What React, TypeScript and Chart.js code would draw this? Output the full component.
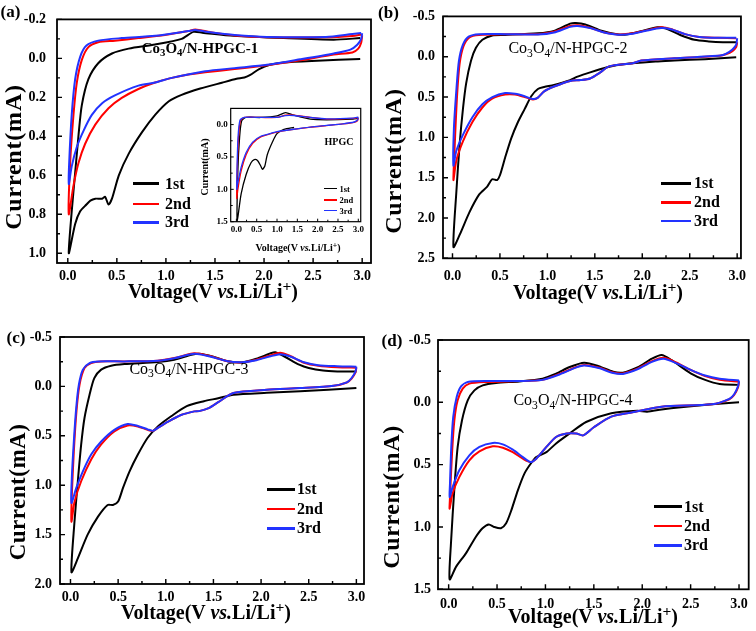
import React, { useEffect, useRef } from 'react';
import { Chart, registerables } from 'chart.js';
Chart.register(...registerables);

// ---------- shared ----------
const legendLabels = ['1st', '2nd', '3rd'];
const cycleColors = ['#000000', '#ff0000', '#2233ff'];
const voltTicks = [0, 0.5, 1, 1.5, 2, 2.5, 3];

// ---------- panel (a) ----------
const aYTicks = [-0.2, 0, 0.2, 0.4, 0.6, 0.8, 1.0];
const a1V = [2.98, 2.54, 2.2, 2.06, 1.95, 1.86, 1.8, 1.72, 1.57, 1.35, 1.16, 1.03, 0.89, 0.755, 0.62, 0.52, 0.45, 0.415, 0.38, 0.35, 0.28, 0.23, 0.19, 0.126, 0.075, 0.01, 0.04, 0.075, 0.11, 0.143, 0.21, 0.31, 0.45, 0.62, 0.89, 1.16, 1.28, 1.37, 1.69, 2.2, 2.71, 2.98];
const a1I = [0.003, 0.012, 0.021, 0.033, 0.055, 0.085, 0.098, 0.105, 0.125, 0.155, 0.187, 0.22, 0.29, 0.38, 0.49, 0.6, 0.72, 0.75, 0.71, 0.72, 0.72, 0.73, 0.75, 0.785, 0.85, 1.0, 0.785, 0.587, 0.39, 0.24, 0.107, 0.025, -0.025, -0.05, -0.071, -0.1, -0.136, -0.132, -0.116, -0.104, -0.096, -0.104];
const a2V = [3.0, 2.99, 2.96, 2.9, 2.71, 2.37, 2.03, 1.7, 1.4, 1.23, 1.06, 0.89, 0.72, 0.55, 0.415, 0.28, 0.177, 0.109, 0.058, 0.01, 0.024, 0.058, 0.092, 0.143, 0.21, 0.31, 0.48, 0.72, 0.99, 1.23, 1.3, 1.45, 1.7, 2.03, 2.63, 2.9, 2.99];
const a2I = [-0.118, -0.08, -0.05, -0.03, -0.02, 0.01, 0.035, 0.055, 0.071, 0.083, 0.1, 0.124, 0.157, 0.203, 0.256, 0.34, 0.438, 0.537, 0.653, 0.8, 0.537, 0.29, 0.124, 0.008, -0.058, -0.083, -0.091, -0.104, -0.12, -0.14, -0.148, -0.135, -0.118, -0.108, -0.108, -0.115, -0.122];
const a3V = [3.0, 2.99, 2.95, 2.88, 2.71, 2.37, 2.03, 1.7, 1.4, 1.06, 0.89, 0.72, 0.48, 0.35, 0.245, 0.16, 0.092, 0.04, 0.01, 0.014, 0.04, 0.075, 0.126, 0.19, 0.31, 0.55, 0.89, 1.23, 1.3, 1.45, 1.7, 2.03, 2.63, 2.9, 2.99];
const a3I = [-0.13, -0.1, -0.07, -0.045, -0.025, 0.005, 0.033, 0.05, 0.066, 0.1, 0.124, 0.14, 0.19, 0.23, 0.29, 0.372, 0.455, 0.554, 0.645, 0.537, 0.29, 0.107, -0.008, -0.066, -0.091, -0.104, -0.116, -0.14, -0.145, -0.134, -0.12, -0.11, -0.11, -0.125, -0.13];

// ---------- inset (HPGC) ----------
const inYTicks = [0, 0.5, 1.0, 1.5];
const in1V = [1.42, 1.17, 1.0, 0.89, 0.76, 0.7, 0.64, 0.6, 0.52, 0.44, 0.36, 0.24, 0.117, 0.02, 0.036, 0.077, 0.13, 0.24, 0.6, 1.0, 1.21, 1.41, 1.82, 2.22, 2.87, 3.0];
const in1I = [0.045, 0.075, 0.14, 0.265, 0.465, 0.64, 0.69, 0.64, 0.555, 0.54, 0.59, 0.77, 1.07, 1.5, 0.715, 0.215, -0.06, -0.11, -0.11, -0.135, -0.185, -0.145, -0.085, -0.075, -0.085, -0.095];
const in2V = [3.0, 2.98, 2.9, 2.62, 2.22, 1.82, 1.41, 1.0, 0.85, 0.6, 0.4, 0.24, 0.117, 0.036, 0.01, 0.02, 0.05, 0.1, 0.2, 0.6, 1.0, 1.21, 1.41, 1.82, 2.22, 2.87, 3.0];
const in2I = [-0.1, -0.06, -0.035, -0.01, 0.015, 0.04, 0.075, 0.115, 0.14, 0.19, 0.29, 0.465, 0.715, 1.0, 1.14, 0.715, 0.215, -0.06, -0.11, -0.11, -0.11, -0.145, -0.145, -0.11, -0.085, -0.095, -0.11];
const in3V = [3.0, 2.98, 2.9, 2.62, 2.22, 1.82, 1.41, 1.0, 0.85, 0.6, 0.4, 0.24, 0.117, 0.036, 0.01, 0.015, 0.04, 0.09, 0.2, 0.6, 1.0, 1.21, 1.41, 1.82, 2.22, 2.87, 3.0];
const in3I = [-0.11, -0.07, -0.04, -0.012, 0.013, 0.038, 0.072, 0.11, 0.135, 0.18, 0.27, 0.43, 0.66, 0.9, 1.0, 0.7, 0.2, -0.07, -0.11, -0.112, -0.112, -0.14, -0.14, -0.11, -0.088, -0.1, -0.115];

// ---------- panel (b) ----------
const bYTicks = [-0.5, 0, 0.5, 1.0, 1.5, 2.0, 2.5];
const b1V = [2.99, 2.66, 2.34, 2.14, 1.82, 1.63, 1.41, 1.31, 1.24, 1.07, 0.966, 0.9, 0.83, 0.76, 0.69, 0.62, 0.555, 0.5, 0.47, 0.418, 0.366, 0.28, 0.178, 0.075, 0.01, 0.04, 0.075, 0.11, 0.144, 0.195, 0.247, 0.315, 0.42, 0.555, 0.9, 1.07, 1.24, 1.3, 1.4, 1.55, 1.75, 1.85, 2.0, 2.16, 2.25, 2.4, 2.55, 2.7, 2.85, 2.99];
const b1I = [0.008, 0.03, 0.048, 0.06, 0.089, 0.13, 0.21, 0.25, 0.29, 0.35, 0.376, 0.4, 0.49, 0.65, 0.81, 1.01, 1.25, 1.47, 1.53, 1.52, 1.61, 1.71, 1.93, 2.21, 2.36, 1.69, 1.09, 0.65, 0.33, 0.05, -0.11, -0.21, -0.264, -0.27, -0.29, -0.32, -0.41, -0.418, -0.4, -0.33, -0.276, -0.28, -0.32, -0.365, -0.35, -0.27, -0.21, -0.19, -0.18, -0.18];
const b2V = [3.0, 2.99, 2.95, 2.88, 2.82, 2.34, 1.99, 1.9, 1.65, 1.55, 1.45, 1.35, 1.24, 1.07, 0.966, 0.897, 0.846, 0.76, 0.66, 0.555, 0.418, 0.315, 0.21, 0.11, 0.04, 0.01, 0.024, 0.048, 0.075, 0.116, 0.178, 0.28, 0.555, 0.9, 1.07, 1.24, 1.32, 1.45, 1.6, 1.75, 1.9, 2.05, 2.2, 2.3, 2.45, 2.6, 2.8, 2.99];
const b2I = [-0.18, -0.12, -0.07, -0.03, -0.012, 0.02, 0.048, 0.08, 0.12, 0.2, 0.27, 0.29, 0.3, 0.37, 0.43, 0.51, 0.53, 0.5, 0.47, 0.47, 0.52, 0.63, 0.81, 1.05, 1.29, 1.53, 1.09, 0.49, 0.09, -0.13, -0.24, -0.27, -0.28, -0.28, -0.31, -0.38, -0.39, -0.36, -0.3, -0.276, -0.29, -0.33, -0.365, -0.345, -0.28, -0.245, -0.235, -0.23];
const b3V = [3.0, 2.99, 2.95, 2.88, 2.82, 2.34, 1.99, 1.9, 1.65, 1.55, 1.45, 1.35, 1.24, 1.07, 0.966, 0.897, 0.846, 0.76, 0.66, 0.555, 0.42, 0.315, 0.21, 0.11, 0.04, 0.01, 0.015, 0.041, 0.068, 0.11, 0.17, 0.28, 0.555, 0.9, 1.07, 1.24, 1.32, 1.45, 1.6, 1.75, 1.9, 2.05, 2.2, 2.3, 2.45, 2.6, 2.8, 2.99];
const b3I = [-0.23, -0.15, -0.09, -0.035, -0.015, 0.02, 0.048, 0.08, 0.12, 0.2, 0.27, 0.29, 0.3, 0.37, 0.43, 0.51, 0.525, 0.49, 0.46, 0.45, 0.5, 0.59, 0.75, 0.97, 1.17, 1.35, 0.89, 0.41, 0.05, -0.15, -0.25, -0.28, -0.28, -0.275, -0.3, -0.37, -0.38, -0.355, -0.3, -0.272, -0.285, -0.325, -0.355, -0.34, -0.28, -0.245, -0.235, -0.235];

// ---------- panel (c) ----------
const cYTicks = [-0.5, 0, 0.5, 1.0, 1.5, 2.0];
const c1V = [3.0, 2.41, 2.06, 1.71, 1.55, 1.4, 1.22, 1.06, 0.917, 0.81, 0.707, 0.62, 0.55, 0.5, 0.445, 0.39, 0.287, 0.18, 0.077, 0.01, 0.042, 0.077, 0.112, 0.147, 0.2, 0.25, 0.322, 0.427, 0.567, 0.917, 1.09, 1.27, 1.35, 1.5, 1.65, 1.8, 1.95, 2.1, 2.15, 2.25, 2.4, 2.5, 2.65, 2.8, 3.0];
const c1I = [0.015, 0.05, 0.065, 0.084, 0.12, 0.15, 0.2, 0.3, 0.405, 0.52, 0.69, 0.86, 1.03, 1.165, 1.2, 1.2, 1.32, 1.5, 1.74, 1.88, 1.37, 0.96, 0.59, 0.32, 0.084, -0.084, -0.17, -0.21, -0.226, -0.247, -0.27, -0.32, -0.33, -0.3, -0.255, -0.243, -0.28, -0.335, -0.345, -0.3, -0.22, -0.186, -0.16, -0.152, -0.15];
const c2V = [3.0, 2.99, 2.95, 2.9, 2.76, 2.41, 2.06, 1.71, 1.55, 1.45, 1.35, 1.3, 1.16, 1.02, 0.917, 0.865, 0.81, 0.707, 0.6, 0.46, 0.32, 0.217, 0.112, 0.042, 0.01, 0.014, 0.035, 0.063, 0.095, 0.147, 0.217, 0.32, 0.567, 0.917, 1.09, 1.3, 1.45, 1.65, 1.8, 1.95, 2.1, 2.2, 2.3, 2.45, 2.6, 2.8, 3.0];
const c2I = [-0.19, -0.14, -0.08, -0.04, -0.006, 0.017, 0.034, 0.067, 0.16, 0.22, 0.25, 0.253, 0.29, 0.36, 0.42, 0.45, 0.44, 0.405, 0.395, 0.456, 0.59, 0.74, 0.96, 1.17, 1.37, 1.1, 0.66, 0.25, -0.017, -0.186, -0.236, -0.253, -0.253, -0.26, -0.287, -0.335, -0.31, -0.255, -0.243, -0.27, -0.315, -0.34, -0.31, -0.24, -0.21, -0.195, -0.19];
const c3V = [3.0, 2.99, 2.95, 2.9, 2.76, 2.41, 2.06, 1.71, 1.55, 1.45, 1.35, 1.3, 1.16, 1.02, 0.917, 0.865, 0.81, 0.707, 0.6, 0.46, 0.32, 0.217, 0.13, 0.06, 0.01, 0.014, 0.035, 0.06, 0.088, 0.13, 0.2, 0.29, 0.567, 0.917, 1.09, 1.3, 1.45, 1.65, 1.8, 1.95, 2.1, 2.2, 2.3, 2.45, 2.6, 2.8, 3.0];
const c3I = [-0.2, -0.15, -0.085, -0.04, -0.006, 0.017, 0.034, 0.067, 0.16, 0.22, 0.25, 0.253, 0.29, 0.36, 0.42, 0.45, 0.435, 0.4, 0.38, 0.44, 0.56, 0.69, 0.86, 1.03, 1.18, 0.93, 0.56, 0.22, -0.017, -0.17, -0.236, -0.253, -0.253, -0.26, -0.285, -0.33, -0.305, -0.255, -0.245, -0.265, -0.305, -0.325, -0.305, -0.245, -0.215, -0.205, -0.2];

// ---------- panel (d) ----------
const dYTicks = [-0.5, 0, 0.5, 1.0, 1.5];
const d1V = [3.0, 2.72, 2.4, 2.2, 2.05, 1.95, 1.68, 1.42, 1.25, 1.11, 1.01, 0.905, 0.853, 0.784, 0.715, 0.646, 0.594, 0.54, 0.47, 0.415, 0.35, 0.28, 0.18, 0.076, 0.01, 0.024, 0.06, 0.093, 0.138, 0.197, 0.266, 0.352, 0.49, 0.73, 0.97, 1.11, 1.25, 1.4, 1.55, 1.7, 1.8, 1.95, 2.1, 2.2, 2.3, 2.5, 2.65, 2.8, 3.0];
const d1I = [0.0, 0.016, 0.04, 0.058, 0.075, 0.068, 0.088, 0.158, 0.25, 0.33, 0.4, 0.44, 0.487, 0.57, 0.706, 0.87, 0.97, 1.01, 1.0, 0.98, 1.01, 1.08, 1.21, 1.32, 1.42, 1.13, 0.68, 0.36, 0.144, -0.016, -0.096, -0.136, -0.155, -0.168, -0.19, -0.23, -0.283, -0.318, -0.29, -0.245, -0.238, -0.28, -0.35, -0.38, -0.34, -0.233, -0.18, -0.147, -0.14];
const d2V = [3.0, 2.99, 2.95, 2.9, 2.72, 2.2, 1.9, 1.68, 1.5, 1.39, 1.32, 1.22, 1.11, 1.01, 0.905, 0.846, 0.767, 0.663, 0.56, 0.456, 0.318, 0.214, 0.11, 0.041, 0.01, 0.014, 0.035, 0.059, 0.093, 0.145, 0.214, 0.387, 0.73, 0.97, 1.15, 1.32, 1.4, 1.55, 1.7, 1.8, 1.95, 2.1, 2.22, 2.35, 2.5, 2.65, 2.8, 3.0];
const d2I = [-0.165, -0.12, -0.06, -0.025, 0.016, 0.035, 0.08, 0.115, 0.2, 0.265, 0.25, 0.25, 0.278, 0.358, 0.452, 0.479, 0.452, 0.4, 0.364, 0.353, 0.393, 0.465, 0.6, 0.73, 0.853, 0.76, 0.41, 0.144, -0.016, -0.11, -0.15, -0.163, -0.171, -0.18, -0.23, -0.283, -0.3, -0.28, -0.24, -0.232, -0.27, -0.33, -0.357, -0.32, -0.26, -0.21, -0.18, -0.165];
const d3V = [3.0, 2.99, 2.95, 2.9, 2.72, 2.2, 1.9, 1.68, 1.5, 1.39, 1.32, 1.22, 1.11, 1.01, 0.905, 0.846, 0.767, 0.663, 0.56, 0.456, 0.318, 0.214, 0.11, 0.041, 0.01, 0.014, 0.027, 0.047, 0.083, 0.128, 0.197, 0.4, 0.73, 0.97, 1.15, 1.32, 1.4, 1.55, 1.7, 1.8, 1.95, 2.1, 2.22, 2.35, 2.5, 2.65, 2.8, 3.0];
const d3I = [-0.175, -0.13, -0.065, -0.028, 0.016, 0.035, 0.08, 0.115, 0.2, 0.265, 0.25, 0.25, 0.278, 0.358, 0.452, 0.479, 0.44, 0.38, 0.337, 0.326, 0.358, 0.425, 0.545, 0.68, 0.76, 0.65, 0.36, 0.118, -0.043, -0.128, -0.163, -0.171, -0.171, -0.18, -0.225, -0.28, -0.295, -0.275, -0.235, -0.228, -0.265, -0.325, -0.35, -0.315, -0.26, -0.215, -0.19, -0.175];

const SERIF = "'Liberation Serif', 'Times New Roman', serif";

type Series = { v: number[]; i: number[]; color: string; width: number; order: number };
type PanelCfg = {
  left: number; top: number; width: number; height: number;
  yW: number; xH: number; padTop: number; padRight: number;
  xMin: number; xMax: number; yMin: number; yMax: number;
  xTicks: number[]; yTicks: number[];
  font: number; xPad: number; yPad: number;
  frameW: number; major: number; minor: number;
  series: Series[];
};

const framePlugin = {
  id: 'frame',
  afterDatasetsDraw(chart: any, _args: any, opts: any) {
    const { ctx, chartArea } = chart;
    const { left, top, right, bottom } = chartArea;
    const xs = chart.scales.x;
    const ys = chart.scales.y;
    ctx.save();
    ctx.strokeStyle = '#000';
    ctx.lineWidth = opts.lw;
    ctx.strokeRect(left, top, right - left, bottom - top);
    ctx.lineWidth = Math.max(1, opts.lw * 0.8);
    ctx.beginPath();
    const xt = xs.ticks.map((t: any) => t.value);
    xt.forEach((v: number, k: number) => {
      const p = xs.getPixelForValue(v);
      ctx.moveTo(p, bottom);
      ctx.lineTo(p, bottom - opts.major);
      if (k < xt.length - 1) {
        const m = xs.getPixelForValue((v + xt[k + 1]) / 2);
        ctx.moveTo(m, bottom);
        ctx.lineTo(m, bottom - opts.minor);
      }
    });
    const yt = ys.ticks.map((t: any) => t.value);
    yt.forEach((v: number, k: number) => {
      const p = ys.getPixelForValue(v);
      ctx.moveTo(left, p);
      ctx.lineTo(left + opts.major, p);
      if (k < yt.length - 1) {
        const m = ys.getPixelForValue((v + yt[k + 1]) / 2);
        ctx.moveTo(left, m);
        ctx.lineTo(left + opts.minor, m);
      }
    });
    ctx.stroke();
    ctx.restore();
  },
};

function ChartPanel({ cfg }: { cfg: PanelCfg }) {
  const ref = useRef<HTMLCanvasElement>(null);
  useEffect(() => {
    const tickFont = { family: SERIF, weight: 'bold' as const, size: cfg.font };
    const chart = new Chart(ref.current as HTMLCanvasElement, {
      type: 'scatter',
      data: {
        datasets: cfg.series.map((s) => ({
          data: s.v.map((x, k) => ({ x, y: s.i[k] })),
          showLine: true,
          borderColor: s.color,
          backgroundColor: s.color,
          borderWidth: s.width,
          pointRadius: 0,
          pointHoverRadius: 0,
          tension: 0.25,
          order: s.order,
          fill: false,
        })),
      },
      options: {
        responsive: false,
        animation: false,
        devicePixelRatio: 1,
        events: [],
        layout: { padding: { top: cfg.padTop, right: cfg.padRight, left: 0, bottom: 0 } },
        plugins: {
          legend: { display: false },
          tooltip: { enabled: false },
          frame: { lw: cfg.frameW, major: cfg.major, minor: cfg.minor },
        } as any,
        scales: {
          x: {
            type: 'linear',
            min: cfg.xMin,
            max: cfg.xMax,
            grid: { display: false, drawTicks: false },
            border: { display: false },
            ticks: {
              padding: cfg.xPad,
              font: tickFont,
              color: '#000',
              maxRotation: 0,
              autoSkip: false,
              callback: (v: any) => Number(v).toFixed(1),
            },
            afterBuildTicks: (s: any) => { s.ticks = cfg.xTicks.map((value) => ({ value })); },
            afterFit: (s: any) => { s.height = cfg.xH; },
          },
          y: {
            type: 'linear',
            reverse: true,
            min: cfg.yMin,
            max: cfg.yMax,
            grid: { display: false, drawTicks: false },
            border: { display: false },
            ticks: {
              padding: cfg.yPad,
              font: tickFont,
              color: '#000',
              autoSkip: false,
              callback: (v: any) => Number(v).toFixed(1),
            },
            afterBuildTicks: (s: any) => { s.ticks = cfg.yTicks.map((value) => ({ value })); },
            afterFit: (s: any) => { s.width = cfg.yW; },
          },
        },
      } as any,
      plugins: [framePlugin],
    });
    return () => chart.destroy();
  }, []);
  return (
    <canvas
      ref={ref}
      width={cfg.width}
      height={cfg.height}
      style={{ position: 'absolute', left: cfg.left, top: cfg.top, width: cfg.width, height: cfg.height }}
    />
  );
}

const mk = (v: number[], i: number[], k: number, width: number): Series => ({
  v, i, color: cycleColors[k], width, order: 3 - k,
});

const panelA: PanelCfg = {
  left: 0, top: 0, width: 378, height: 300, yW: 57, xH: 37, padTop: 11.5, padRight: 7,
  xMin: -0.11, xMax: 3.09, yMin: -0.2, yMax: 1.05, xTicks: voltTicks, yTicks: aYTicks,
  font: 14, xPad: 5, yPad: 11, frameW: 1.8, major: 5, minor: 3,
  series: [mk(a1V, a1I, 0, 2), mk(a2V, a2I, 1, 2), mk(a3V, a3I, 2, 2)],
};
const panelInset: PanelCfg = {
  left: 195, top: 100, width: 172, height: 158, yW: 35.7, xH: 36.3, padTop: 5.7, padRight: 4.3,
  xMin: -0.14, xMax: 3.06, yMin: -0.25, yMax: 1.5, xTicks: voltTicks, yTicks: inYTicks,
  font: 9, xPad: 3, yPad: 3, frameW: 1.2, major: 3, minor: 2,
  series: [mk(in1V, in1I, 0, 1.3), mk(in2V, in2I, 1, 1.3), mk(in3V, in3I, 2, 1.3)],
};
const panelB: PanelCfg = {
  left: 378, top: 0, width: 378, height: 300, yW: 65, xH: 41.7, padTop: 11.6, padRight: 7.3,
  xMin: -0.1, xMax: 3.04, yMin: -0.5, yMax: 2.5, xTicks: voltTicks, yTicks: bYTicks,
  font: 14, xPad: 10, yPad: 8, frameW: 1.8, major: 5, minor: 3,
  series: [mk(b1V, b1I, 0, 2), mk(b2V, b2I, 1, 2), mk(b3V, b3I, 2, 2)],
};
const panelC: PanelCfg = {
  left: 0, top: 310, width: 378, height: 315, yW: 60, xH: 41, padTop: 27, padRight: 14,
  xMin: -0.11, xMax: 3.08, yMin: -0.5, yMax: 2.0, xTicks: voltTicks, yTicks: cYTicks,
  font: 14, xPad: 5, yPad: 8, frameW: 1.8, major: 5, minor: 3,
  series: [mk(c1V, c1I, 0, 2), mk(c2V, c2I, 1, 2), mk(c3V, c3I, 2, 2)],
};
const panelD: PanelCfg = {
  left: 378, top: 310, width: 378, height: 315, yW: 60, xH: 35.7, padTop: 30, padRight: 7.3,
  xMin: -0.11, xMax: 3.1, yMin: -0.5, yMax: 1.5, xTicks: voltTicks, yTicks: dYTicks,
  font: 14, xPad: 7, yPad: 7, frameW: 1.8, major: 5, minor: 3,
  series: [mk(d1V, d1I, 0, 2), mk(d2V, d2I, 1, 2), mk(d3V, d3I, 2, 2)],
};

function Txt({ x, y, size, bold = true, rot = false, ls = 0, children }: any) {
  return (
    <div
      style={{
        position: 'absolute', left: x, top: y,
        transform: `translate(-50%, -50%)${rot ? ' rotate(-90deg)' : ''}`,
        fontSize: size, fontWeight: bold ? 'bold' : 'normal', lineHeight: 1,
        whiteSpace: 'nowrap', color: '#000', letterSpacing: ls, fontFamily: SERIF,
      }}
    >
      {children}
    </div>
  );
}

const Sub = ({ children }: any) => (
  <span style={{ fontSize: '0.72em', position: 'relative', top: '0.32em' }}>{children}</span>
);

const VoltTitle = () => (
  <>
    Voltage(V <i>vs.</i>Li/Li<span style={{ fontSize: '0.78em', position: 'relative', top: '-0.45em' }}>+</span>)
  </>
);

const Material = ({ n }: { n: number }) => (
  <>
    Co<Sub>3</Sub>O<Sub>4</Sub>/N-HPGC-{n}
  </>
);

function Legend({ x1, x2, tx, ys, size, lw }: any) {
  return (
    <>
      {legendLabels.map((lab, k) => (
        <React.Fragment key={lab}>
          <div style={{ position: 'absolute', left: x1, top: ys[k] - lw / 2, width: x2 - x1, height: lw, background: cycleColors[k] }} />
          <div style={{ position: 'absolute', left: tx, top: ys[k], transform: 'translateY(-50%)', fontSize: size, fontWeight: 'bold', lineHeight: 1, fontFamily: SERIF, color: '#000', whiteSpace: 'nowrap' }}>
            {lab}
          </div>
        </React.Fragment>
      ))}
    </>
  );
}

export default function App() {
  return (
    <div style={{ position: 'absolute', left: 0, top: 0, width: 756, height: 631, background: '#fff', overflow: 'hidden', fontFamily: SERIF }}>
      <ChartPanel cfg={panelA} />
      <ChartPanel cfg={panelB} />
      <ChartPanel cfg={panelC} />
      <ChartPanel cfg={panelD} />
      <ChartPanel cfg={panelInset} />

      {/* panel (a) */}
      <Txt x={10.5} y={11} size={17}>(a)</Txt>
      <Txt x={13} y={157} size={24} rot ls={0.8}>Current(mA)</Txt>
      <Txt x={213} y={291} size={20}><VoltTitle /></Txt>
      <Txt x={200} y={48} size={15}><Material n={1} /></Txt>
      <Legend x1={133} x2={159} tx={165} ys={[183.7, 204, 222.3]} size={16} lw={2.8} />

      {/* inset */}
      <Txt x={205} y={167} size={10} rot>Current(mA)</Txt>
      <Txt x={298} y={248} size={10}><VoltTitle /></Txt>
      <Txt x={339} y={141.5} size={10}>HPGC</Txt>
      <Legend x1={324} x2={337} tx={339.5} ys={[188.7, 200, 210.7]} size={8.5} lw={1.6} />

      {/* panel (b) */}
      <Txt x={388.5} y={12} size={17}>(b)</Txt>
      <Txt x={393} y={161} size={24} rot ls={0.8}>Current(mA)</Txt>
      <Txt x={598} y={292} size={20}><VoltTitle /></Txt>
      <Txt x={568} y={48.3} size={16} bold={false}><Material n={2} /></Txt>
      <Legend x1={661} x2={691} tx={694} ys={[183.3, 202.3, 221]} size={16} lw={2.8} />

      {/* panel (c) */}
      <Txt x={16} y={337} size={17}>(c)</Txt>
      <Txt x={17} y={491.5} size={23} rot ls={0.5}>Current(mA)</Txt>
      <Txt x={206} y={612} size={20}><VoltTitle /></Txt>
      <Txt x={189} y={368.5} size={16} bold={false}><Material n={3} /></Txt>
      <Legend x1={266.7} x2={295} tx={297} ys={[489.3, 509, 528.3]} size={16} lw={2.8} />

      {/* panel (d) */}
      <Txt x={392} y={340} size={17}>(d)</Txt>
      <Txt x={391} y={497} size={24} rot ls={0.6}>Current(mA)</Txt>
      <Txt x={593} y={616} size={20}><VoltTitle /></Txt>
      <Txt x={573} y={400} size={16} bold={false}><Material n={4} /></Txt>
      <Legend x1={654} x2={682} tx={684} ys={[506.7, 526, 545.3]} size={16} lw={2.8} />
    </div>
  );
}
